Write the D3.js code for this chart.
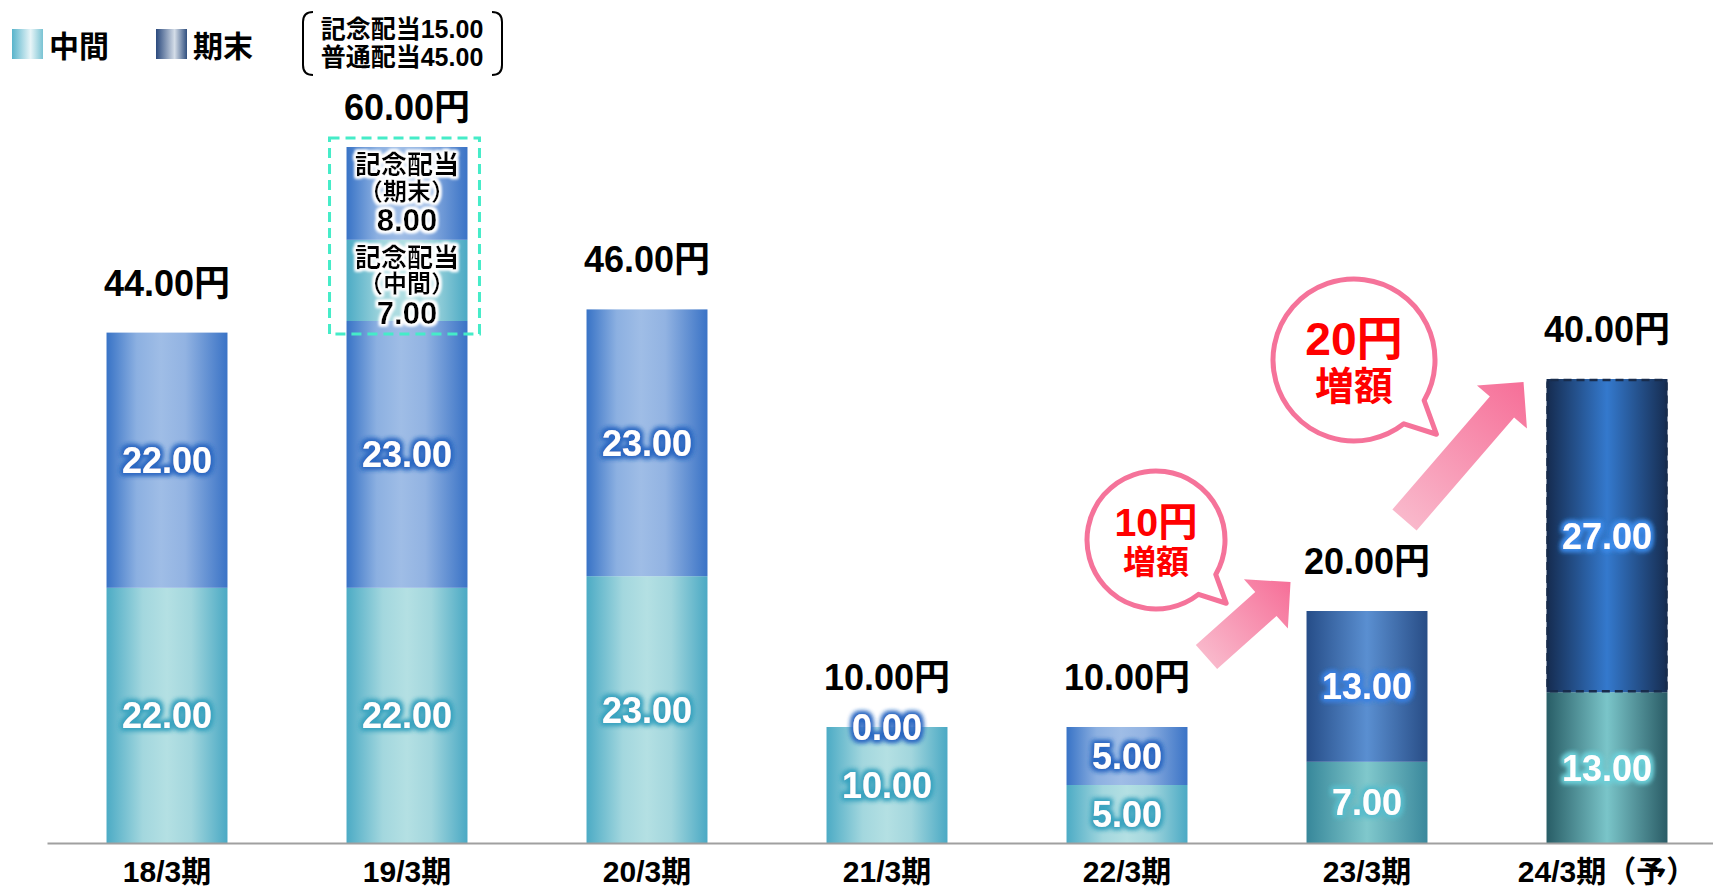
<!DOCTYPE html>
<html lang="ja">
<head>
<meta charset="utf-8">
<script src="https://cdn.jsdelivr.net/npm/d3@7"></script>
<style>
  body { margin: 0; background: #fff; }
  svg { display: block; font-family: "Liberation Sans", Arial, "Noto Sans CJK JP", sans-serif; font-weight: bold; }
</style>
</head>
<body>
<svg id="chart" width="1713" height="889"></svg>
<script>
// Dividend per share (yen)
var categories = ["18/3期", "19/3期", "20/3期", "21/3期", "22/3期", "23/3期", "24/3期（予）"];
var interim = [22, 22, 23, 10, 5, 7, 13];
var yearEnd = [22, 23, 23, 0, 5, 13, 27];
var commemInterim = [0, 7, 0, 0, 0, 0, 0];
var commemYearEnd = [0, 8, 0, 0, 0, 0, 0];
var legendLabels = ["中間", "期末"];
var noteLines = ["記念配当15.00", "普通配当45.00"];
var increaseAmounts = [10, 20];

var keys = ["interim", "yearEnd", "commemInterim", "commemYearEnd"];
var rows = categories.map(function(c, i) {
  return { cat: c, interim: interim[i], yearEnd: yearEnd[i], commemInterim: commemInterim[i], commemYearEnd: commemYearEnd[i] };
});
rows.forEach(function(r) { r.total = r.interim + r.yearEnd + r.commemInterim + r.commemYearEnd; });

var svg = d3.select("#chart");
var fmt = d3.format(".2f");

var x = d3.scaleBand().domain(categories).range([47, 1727]).paddingInner(0.496).paddingOuter(0.248);
var y = d3.scaleLinear().domain([0, 60]).range([843, 147]);
var bw = x.bandwidth();

// tone of each bar (last two are drawn darker)
function tone(cat) {
  if (cat == "24/3期（予）") return "dark";
  if (cat == "23/3期") return "mid";
  return "light";
}

var defs = svg.append("defs");

function hGrad(id, stops) {
  var g = defs.append("linearGradient").attr("id", id).attr("x1", 0).attr("x2", 1).attr("y1", 0).attr("y2", 0);
  stops.forEach(function(s) { g.append("stop").attr("offset", s[0]).attr("stop-color", s[1]); });
}
hGrad("int-light", [[0, "#4cabc5"], [0.3, "#a3d7de"], [0.5, "#b4e0e3"], [0.7, "#a2d6dd"], [1, "#4aa9c4"]]);
hGrad("end-light", [[0, "#3873c6"], [0.25, "#8cb0e1"], [0.45, "#9fbde6"], [0.65, "#92b3e2"], [1, "#3a73c6"]]);
hGrad("int-mid", [[0, "#37879a"], [0.5, "#80c8cc"], [1, "#3a889c"]]);
hGrad("end-mid", [[0, "#264d88"], [0.5, "#5a8fd1"], [1, "#284d86"]]);
hGrad("int-dark", [[0, "#285d66"], [0.5, "#7ac5c9"], [1, "#2a5c66"]]);
hGrad("end-dark", [[0, "#152b4f"], [0.5, "#3479cd"], [1, "#162c50"]]);
hGrad("leg-int", [[0, "#58b4cb"], [0.6, "#e8f5f8"], [1, "#79c3d3"]]);
hGrad("leg-end", [[0, "#2a497d"], [0.6, "#d4dde8"], [1, "#31507f"]]);

var ag = defs.append("linearGradient").attr("id", "arrowGrad").attr("x1", 0).attr("x2", 1).attr("y1", 0).attr("y2", 0);
ag.append("stop").attr("offset", 0).attr("stop-color", "#f9b8cb");
ag.append("stop").attr("offset", 1).attr("stop-color", "#f66f98");

function glow(id, color, r, sd) {
  var f = defs.append("filter").attr("id", id).attr("x", "-30%").attr("y", "-50%").attr("width", "160%").attr("height", "200%");
  f.append("feMorphology").attr("in", "SourceAlpha").attr("operator", "dilate").attr("radius", r).attr("result", "d");
  f.append("feGaussianBlur").attr("in", "d").attr("stdDeviation", sd).attr("result", "b");
  f.append("feFlood").attr("flood-color", color);
  f.append("feComposite").attr("in2", "b").attr("operator", "in").attr("result", "g");
  var m = f.append("feMerge");
  m.append("feMergeNode").attr("in", "g");
  m.append("feMergeNode").attr("in", "g");
  m.append("feMergeNode").attr("in", "SourceGraphic");
}
glow("g-int-light", "#3aa3bf", 1.5, 2.5);
glow("g-end-light", "#2c68c2", 1.5, 2.5);
glow("g-int-mid", "#58bccb", 1.5, 2.5);
glow("g-end-mid", "#3a80e0", 1.5, 2.5);
glow("g-int-dark", "#6ccfd8", 1.5, 2.5);
glow("g-end-dark", "#3c8ae8", 1.5, 2.5);
glow("g-white", "#ffffff", 1.5, 1.5);

function kind(key) { return (key == "interim" || key == "commemInterim") ? "int" : "end"; }

// Bars
var series = d3.stack().keys(keys)(rows);

var layers = svg.append("g").selectAll("g")
  .data(series)
  .enter().append("g");

layers.selectAll("rect")
  .data(function(s) { s.forEach(function(d) { d.key = s.key; }); return s; })
  .enter().append("rect")
  .attr("x", function(d) { return x(d.data.cat); })
  .attr("y", function(d) { return y(d[1]); })
  .attr("width", bw)
  .attr("height", function(d) { return y(d[0]) - y(d[1]); })
  .attr("fill", function(d) { return "url(#" + kind(d.key) + "-" + tone(d.data.cat) + ")"; });

// dashed outline on forecast year-end segment
rows.forEach(function(r) {
  if (tone(r.cat) != "dark") return;
  svg.append("rect")
    .attr("x", x(r.cat) + 1).attr("y", y(r.interim + r.yearEnd) + 1)
    .attr("width", bw - 2).attr("height", y(r.interim) - y(r.interim + r.yearEnd) - 2)
    .attr("rx", 3)
    .attr("fill", "none").attr("stroke", "#182c4c").attr("stroke-width", 2.5)
    .attr("stroke-dasharray", "8,5");
});

// Segment labels
var segLabels = svg.append("g").attr("font-size", 36).attr("text-anchor", "middle").attr("fill", "#fff");
series.forEach(function(s) {
  if (s.key != "interim" && s.key != "yearEnd") return;
  s.forEach(function(d) {
    segLabels.append("text")
      .attr("x", x(d.data.cat) + bw / 2)
      .attr("y", (y(d[0]) + y(d[1])) / 2)
      .attr("dy", "0.36em")
      .attr("filter", "url(#g-" + kind(s.key) + "-" + tone(d.data.cat) + ")")
      .text(fmt(d[1] - d[0]));
  });
});

// Commemorative dividend labels + dashed box
rows.forEach(function(r) {
  var c = r.commemInterim + r.commemYearEnd;
  if (c <= 0) return;
  var cx = x(r.cat) + bw / 2;
  var base = r.interim + r.yearEnd;
  var parts = [
    { top: y(r.total), sub: "（期末）", v: r.commemYearEnd },
    { top: y(base + r.commemInterim), sub: "（中間）", v: r.commemInterim }
  ];
  parts.forEach(function(p) {
    var g = svg.append("g").attr("text-anchor", "middle").attr("fill", "#000").attr("filter", "url(#g-white)");
    g.append("text").attr("x", cx).attr("y", p.top + 18).attr("dominant-baseline", "central").attr("font-size", 26).text("記念配当");
    g.append("text").attr("x", cx).attr("y", p.top + 44).attr("dominant-baseline", "central").attr("font-size", 24).text(p.sub);
    g.append("text").attr("x", cx).attr("y", p.top + 73).attr("dy", "0.36em").attr("font-size", 31).text(fmt(p.v));
  });
  svg.append("rect")
    .attr("x", x(r.cat) - 17).attr("y", y(r.total) - 9)
    .attr("width", bw + 29).attr("height", y(base) - y(r.total) + 22)
    .attr("fill", "none").attr("stroke", "#45ecc8").attr("stroke-width", 3)
    .attr("stroke-dasharray", "10,6");
});

// Total labels
svg.append("g").attr("font-size", 36).attr("text-anchor", "middle").attr("fill", "#000")
  .selectAll("text").data(rows).enter().append("text")
  .attr("x", function(d) { return x(d.cat) + bw / 2; })
  .attr("y", function(d) {
    if (d.commemInterim + d.commemYearEnd > 0) return y(d.total) - 27;
    return y(d.total) - 37;
  })
  .text(function(d) { return fmt(d.total) + "円"; });

// Axis
var axis = svg.append("g").attr("transform", "translate(0,843)")
  .call(d3.axisBottom(x).tickSize(0));
axis.select(".domain").attr("stroke", "#a0a0a0").attr("stroke-width", 2);
axis.selectAll("text")
  .attr("y", 39).attr("dy", 0)
  .attr("font-size", 30).attr("font-weight", "bold").attr("fill", "#000")
  .attr("font-family", "\"Liberation Sans\", Arial, \"Noto Sans CJK JP\", sans-serif");

// Arrows + speech bubbles for the increases
function arrow(x0, y0, x1, y1) {
  var len = Math.hypot(x1 - x0, y1 - y0);
  var ang = Math.atan2(y1 - y0, x1 - x0) * 180 / Math.PI;
  var hl = 33, hw = 33, sw = 16;
  var pts = [[0, -sw], [len - hl, -sw], [len - hl, -hw], [len, 0], [len - hl, hw], [len - hl, sw], [0, sw]];
  svg.append("path")
    .attr("d", "M" + pts.join("L") + "Z")
    .attr("fill", "url(#arrowGrad)")
    .attr("transform", "translate(" + x0 + "," + y0 + ") rotate(" + ang + ")");
}

function bubble(cx, cy, r, amount) {
  var a1 = 30 * Math.PI / 180, a2 = 52 * Math.PI / 180, at = 42 * Math.PI / 180;
  var p1 = [cx + r * Math.cos(a1), cy + r * Math.sin(a1)];
  var p2 = [cx + r * Math.cos(a2), cy + r * Math.sin(a2)];
  var tip = [cx + r * 1.37 * Math.cos(at), cy + r * 1.37 * Math.sin(at)];
  svg.append("path")
    .attr("d", "M" + p1 + "A" + r + "," + r + " 0 1 0 " + p2 + "L" + tip + "Z")
    .attr("fill", "#fff").attr("stroke", "#f5739a").attr("stroke-width", 5)
    .attr("stroke-linejoin", "round");
  svg.append("text").attr("x", cx).attr("y", cy - r * 0.06)
    .attr("text-anchor", "middle").attr("fill", "#ff0000").attr("font-size", r * 0.57)
    .text(amount + "円");
  svg.append("text").attr("x", cx).attr("y", cy + r * 0.33).attr("dominant-baseline", "central")
    .attr("text-anchor", "middle").attr("fill", "#ff0000").attr("font-size", r * 0.48)
    .text("増額");
}

var c5 = "22/3期", c6 = "23/3期", c7 = "24/3期（予）";
var t = {};
rows.forEach(function(r) { t[r.cat] = r.total; });

arrow(x(c5) + bw + 19, y(t[c5]) - 70, x(c6) - 16, y(t[c6]) - 29);
arrow(x(c6) + bw - 23, y(t[c6]) - 91, x(c7) - 23, y(t[c7]) + 3);
bubble(x(c5) + bw / 2 + 29, y(t[c5]) - 187, 69, increaseAmounts[0]);
bubble(x(c6) + bw / 2 - 13, y(t[c6]) - 251, 81, increaseAmounts[1]);

// Legend
var legend = svg.append("g");
legendLabels.forEach(function(l, i) {
  var lx = 12 + i * 144;
  legend.append("rect").attr("x", lx).attr("y", 29).attr("width", 31).attr("height", 30)
    .attr("fill", i == 0 ? "url(#leg-int)" : "url(#leg-end)");
  legend.append("text").attr("x", lx + 37).attr("y", 46).attr("dominant-baseline", "central")
    .attr("font-size", 30).attr("fill", "#000").text(l);
});

// Bracketed note on the breakdown of the 60 yen dividend
legend.append("path")
  .attr("d", "M313,12 Q303,12 303,22 L303,65 Q303,75 313,75")
  .attr("fill", "none").attr("stroke", "#000").attr("stroke-width", 2);
legend.append("path")
  .attr("d", "M492,12 Q502,12 502,22 L502,65 Q502,75 492,75")
  .attr("fill", "none").attr("stroke", "#000").attr("stroke-width", 2);
noteLines.forEach(function(n, i) {
  legend.append("text").attr("x", 402).attr("y", 29 + i * 28).attr("dominant-baseline", "central")
    .attr("text-anchor", "middle").attr("font-size", 25).attr("fill", "#000").text(n);
});
</script>
</body>
</html>
